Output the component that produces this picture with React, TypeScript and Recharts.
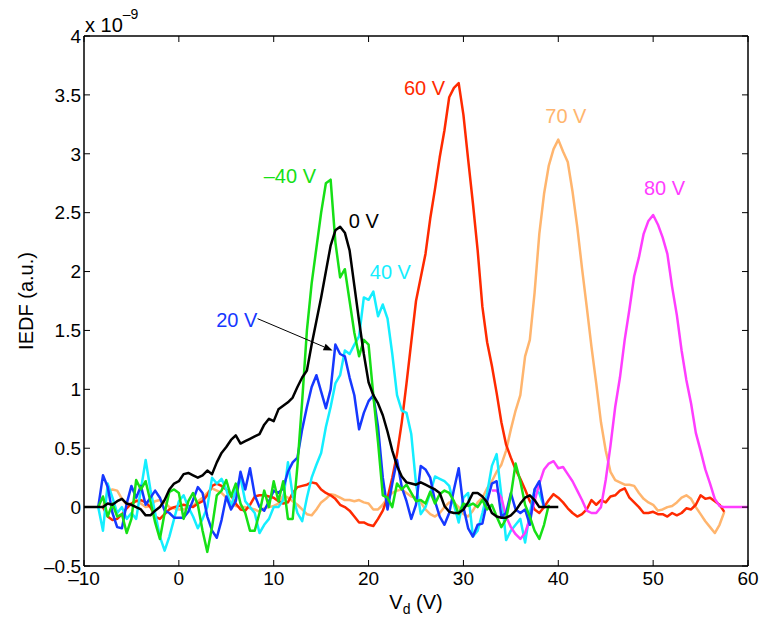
import React from 'react';
import { LineChart, Line, XAxis, YAxis, ReferenceDot, ReferenceLine } from 'recharts';

const xTicks = [-10, 0, 10, 20, 30, 40, 50, 60];
const yTicks = [-0.5, 0, 0.5, 1, 1.5, 2, 2.5, 3, 3.5, 4];

// IEDF values (units of 1e-9), sampled every 0.5 V starting at the given Vd
const black0VStart = -10;
const black0V = [
  0, 0, 0, 0, 0,
  0.03, 0.02, 0.05, 0.07, 0.03,
  0.02, 0.0, -0.02, -0.07, -0.07,
  -0.03, 0.0, 0.06, 0.15, 0.2,
  0.22, 0.28, 0.29, 0.27, 0.25,
  0.27, 0.31, 0.28, 0.38, 0.46,
  0.51, 0.57, 0.61, 0.54, 0.56,
  0.58, 0.6, 0.62, 0.7, 0.75,
  0.73, 0.83, 0.86, 0.89, 0.93,
  1.02, 1.1, 1.16, 1.38, 1.58,
  1.78, 2.0, 2.22, 2.35, 2.38,
  2.33, 2.18, 1.88, 1.58, 1.3,
  1.06, 0.95, 0.88, 0.78, 0.64,
  0.48, 0.35, 0.26, 0.21, 0.2,
  0.19, 0.21, 0.19, 0.17, 0.15,
  0.12, 0.01, -0.04, -0.05, -0.05,
  -0.02, 0.04, 0.12, 0.12, 0.09,
  0.04, -0.05, -0.08, -0.09, -0.09,
  -0.07, -0.03, 0.03, 0.08, 0.1,
  0.06, 0, 0, 0, 0,
  0,
];

const green40Start = -8.5;
const greenM40V = [
  0.0, 0.09, -0.08, 0.03, -0.08,
  -0.06, -0.22, -0.1, 0.23, 0.15,
  0.22, 0.05, -0.13, -0.27, -0.05,
  0.13, 0.15, 0.12, -0.1, 0.05,
  0.12, 0.02, -0.2, -0.38, -0.17,
  0.1, 0.14, 0.23, 0.09, 0.2,
  0.03, -0.05, -0.2, -0.2, -0.05,
  0.14, 0.0, 0.22, 0.05, 0.22,
  -0.1, -0.1, 0.35, 0.9, 1.5,
  1.9, 2.2, 2.5, 2.75, 2.78,
  2.25, 1.95, 2.02, 1.75, 1.48,
  1.28, 1.42, 1.38, 0.95, 0.55,
  0.1, 0.08, 0.0, 0.2, 0.15,
  0.19, 0.12, 0.05, 0.06, 0.03,
  0.13, 0.03, 0.11, 0.14, 0.12,
  0.05, -0.06, 0.03, 0.01, 0.03,
  0.0, 0.06, -0.02, 0.02, -0.08,
  -0.17, -0.1, 0.1, 0.37, 0.22,
  0.02, -0.08, -0.2, -0.27, -0.15,
  0.02,
];

const blue20Start = -8.5;
const blue20V = [
  0.0, 0.27, 0.17, -0.05, -0.17,
  -0.18, 0.03, 0.18, 0.08, 0.18,
  0.02, 0.08, 0.14, 0.08, -0.03,
  -0.05, -0.09, -0.09, -0.09, -0.04,
  0.06, 0.17, 0.12, -0.08, -0.2,
  -0.26, -0.11, 0.09, -0.02, 0.05,
  0.3, 0.15, 0.33, 0.1, 0.0,
  -0.03, 0.05, 0.14, 0.12, 0.16,
  0.3, 0.38, 0.42, 0.66, 0.85,
  1.02, 1.12, 0.98, 0.84, 1.0,
  1.38, 1.3, 1.28, 1.1, 0.95,
  0.66, 0.8, 0.9, 0.95, 0.68,
  0.25, -0.02, 0.2, 0.4, 0.17,
  0.05, -0.1, 0.02, 0.35, 0.32,
  0.25, 0.05, -0.08, -0.15, -0.05,
  0.15, 0.33, 0.0, -0.18, -0.25,
  -0.15, -0.14, 0.05, 0.2, 0.22,
  -0.08, -0.05, 0.12, -0.02, -0.05,
  -0.02, -0.15, 0.15, 0.22, 0.0,
];

const cyan40Start = -8.5;
const cyan40V = [
  0.0, -0.2, 0.2, 0.08, -0.05,
  0.0, -0.1, -0.05, -0.1, 0.15,
  0.4, 0.15, -0.05, -0.25, -0.37,
  -0.25, -0.1, 0.05, 0.1, 0.0,
  -0.08, -0.18, -0.1, 0.0, 0.25,
  0.2, 0.24, 0.15, 0.0, 0.15,
  0.25, 0.05, 0.0, -0.05, -0.22,
  -0.15, -0.1, 0.0, 0.0, 0.06,
  0.38, 0.1, -0.05, -0.12, 0.08,
  0.25, 0.36, 0.46, 0.68, 0.85,
  1.05, 1.12, 1.33, 1.3, 1.38,
  1.45, 1.78, 1.76, 1.83, 1.62,
  1.72, 1.6, 1.3, 0.95, 0.82,
  0.8, 0.62, 0.2, -0.06, 0.0,
  0.12, 0.26, 0.24, 0.22, 0.18,
  0.02, -0.13, 0.08, 0.12, -0.25,
  -0.2, -0.05, 0.12, 0.35, 0.45,
  0.1, -0.28, -0.2, -0.15, -0.1,
  -0.3, -0.05, 0.15, 0.12, 0.0,
];

const red60Start = -8;
const red60V = [
  0.0, -0.08, -0.11, -0.1, -0.06,
  -0.01, 0.03, 0.05, 0.06, 0.04,
  0.0, -0.08, -0.1, -0.06, -0.02,
  0.0, 0.01, 0.02, 0.01, 0.0,
  0.03, 0.05, 0.1, 0.18, 0.2,
  0.18, 0.15, 0.1, 0.03, -0.02,
  -0.03, 0.02, 0.09, 0.1, 0.1,
  0.09, 0.08, 0.05, 0.03, 0.04,
  0.12, 0.17, 0.18, 0.19, 0.21,
  0.2, 0.15, 0.12, 0.1, 0.07,
  0.02, 0.0, -0.03, -0.08, -0.13,
  -0.13, -0.15, -0.16, -0.1, -0.03,
  0.08, 0.25, 0.45, 0.72, 1.05,
  1.4, 1.75, 1.95, 2.15, 2.45,
  2.7, 2.97, 3.2, 3.48, 3.56,
  3.6, 3.33, 2.95, 2.58, 2.18,
  1.7, 1.4, 1.2, 0.97, 0.72,
  0.53, 0.42, 0.32, 0.24, 0.15,
  0.05, -0.02, -0.05, 0.0, 0.06,
  0.11, 0.08, 0.04, -0.01, -0.05,
  -0.08, -0.06, -0.02, 0.06, 0.02,
  0.06, 0.04, 0.09, 0.1, 0.14,
  0.16, 0.08, 0.04, 0.0, -0.05,
  -0.05, -0.04, -0.06, -0.06, -0.08,
  -0.05, -0.07, -0.05, -0.01, -0.02,
  0.02, 0.1, 0.07, 0.08, 0.05,
  0.02, -0.04,
];

const orange70Start = -8;
const orange70V = [
  0.0, 0.13, 0.15, 0.14, 0.07,
  0.02, 0.03, 0.06, 0.03, 0.0,
  0.01, 0.05, 0.06, 0.04, 0.0,
  -0.01, -0.02, -0.02, 0.0, 0.01,
  0.05, 0.08, 0.12, 0.16, 0.14,
  0.12, 0.08, 0.04, 0.01, 0.0,
  0.0, -0.01, -0.02, -0.04, -0.01,
  0.0, 0.01, 0.03, 0.1, 0.08,
  0.05, 0.02, -0.02, -0.06, -0.07,
  -0.02, 0.04, 0.07, 0.11, 0.1,
  0.08, 0.06, 0.06, 0.05, 0.06,
  0.04, 0.03, -0.02, -0.02, 0.02,
  0.08, 0.12, 0.14, 0.15, 0.12,
  0.09, 0.08, 0.04, -0.02, -0.06,
  -0.08, -0.05, 0.0, 0.04, 0.04,
  0.0, -0.06, -0.08, -0.03, 0.04,
  0.08, 0.16, 0.22, 0.3, 0.36,
  0.48, 0.66, 0.82, 0.95, 1.28,
  1.42, 1.82, 2.32, 2.66, 2.9,
  3.04, 3.12, 3.02, 2.93, 2.68,
  2.38, 2.03, 1.7, 1.36, 1.05,
  0.72, 0.48, 0.3, 0.23, 0.21,
  0.19, 0.19, 0.18, 0.12, 0.07,
  0.04, 0.02, -0.03, -0.02, 0.0,
  0.01, 0.04, 0.08, 0.1, 0.07,
  0.0, -0.06, -0.12, -0.17, -0.22,
  -0.15, -0.04,
];

const magenta80Start = 33;
const magenta80V = [
  0.14, 0.14, 0.08, -0.08, -0.17,
  -0.23, -0.27, -0.22, -0.1, 0.05,
  0.2, 0.32, 0.37, 0.39, 0.33,
  0.34, 0.28, 0.22, 0.14, 0.06,
  -0.03, -0.05, -0.05, 0.0, 0.23,
  0.52, 0.85, 1.1, 1.42, 1.68,
  1.96, 2.12, 2.32, 2.43, 2.48,
  2.4, 2.29, 2.15, 1.87, 1.63,
  1.33, 1.08, 0.88, 0.63, 0.48,
  0.32, 0.2, 0.07, 0.01, 0.0,
  0, 0, 0, 0, 0,
];

const STEP = 0.5;

const series = [
  { key: 'v70', name: '70 V', start: orange70Start, values: orange70V, color: '#ffb56e' },
  { key: 'v60', name: '60 V', start: red60Start, values: red60V, color: '#ff2a00' },
  { key: 'v40', name: '40 V', start: cyan40Start, values: cyan40V, color: '#14eeff' },
  { key: 'v80', name: '80 V', start: magenta80Start, values: magenta80V, color: '#ff3dff' },
  { key: 'v20', name: '20 V', start: blue20Start, values: blue20V, color: '#1638ff' },
  { key: 'vm40', name: '–40 V', start: green40Start, values: greenM40V, color: '#16e016' },
  { key: 'v0', name: '0 V', start: black0VStart, values: black0V, color: '#000000' },
];

// annotation text placement (data coordinates)
const annotations = [
  { text: '–40 V', x: 11.7, y: 2.81, color: '#16e016' },
  { text: '0 V', x: 19.5, y: 2.43, color: '#000000' },
  { text: '40 V', x: 22.3, y: 2.0, color: '#14eeff' },
  { text: '20 V', x: 6.1, y: 1.59, color: '#1638ff' },
  { text: '60 V', x: 25.9, y: 3.56, color: '#ff2a00' },
  { text: '70 V', x: 40.8, y: 3.32, color: '#ffb56e' },
  { text: '80 V', x: 51.2, y: 2.71, color: '#ff3dff' },
];
const arrowFrom = { x: 8.3, y: 1.6 };
const arrowTo = { x: 16.2, y: 1.33 };

const rows: any[] = [];
for (let i = 0; i <= 140; i++) {
  const x = -10 + i * STEP;
  const row: any = { x };
  series.forEach((s) => {
    const idx = Math.round((x - s.start) / STEP);
    if (idx >= 0 && idx < s.values.length) row[s.key] = s.values[idx];
  });
  rows.push(row);
}

const FONT = '"Liberation Sans", Arial, Helvetica, sans-serif';
const fmt = (v: number) => (v < 0 ? '–' + String(Math.abs(v)) : String(v));

const Arrow = (p: any) => {
  const { x1, y1, x2, y2 } = p;
  const ang = Math.atan2(y2 - y1, x2 - x1);
  const len = 9;
  const w = 3.5;
  const bx = x2 - len * Math.cos(ang);
  const by = y2 - len * Math.sin(ang);
  const px = -Math.sin(ang) * w;
  const py = Math.cos(ang) * w;
  return (
    <g>
      <line x1={x1} y1={y1} x2={bx} y2={by} stroke="#000" strokeWidth={1} />
      <polygon points={`${x2},${y2} ${bx + px},${by + py} ${bx - px},${by - py}`} fill="#000" />
    </g>
  );
};

export default function App() {
  return (
    <div style={{ position: 'absolute', left: 0, top: 0, width: 763, height: 619, background: '#fff', fontFamily: FONT }}>
      <LineChart width={763} height={619} data={rows} margin={{ top: 31, right: 10, bottom: 23, left: 24 }}>
        <XAxis
          dataKey="x"
          type="number"
          domain={[-10, 60]}
          ticks={xTicks}
          interval={0}
          allowDataOverflow
          height={30}
          tickSize={-6}
          tickMargin={12}
          tickFormatter={fmt}
          axisLine={{ stroke: '#000', strokeWidth: 1.5 }}
          tickLine={{ stroke: '#000', strokeWidth: 1 }}
          tick={{ fill: '#000', fontSize: 19, fontFamily: FONT }}
          label={{
            content: (props: any) => {
              const vb = props.viewBox || { x: 84, y: 566, width: 664, height: 30 };
              return (
                <text x={vb.x + vb.width / 2} y={vb.y + 43} textAnchor="middle" fontSize={20} fontFamily={FONT} fill="#000">
                  V<tspan fontSize={14} dy={5}>d</tspan>
                  <tspan dy={-5}> (V)</tspan>
                </text>
              );
            },
          }}
        />
        <XAxis
          xAxisId="top"
          orientation="top"
          dataKey="x"
          type="number"
          domain={[-10, 60]}
          ticks={xTicks}
          interval={0}
          allowDataOverflow
          height={5}
          tickSize={-6}
          tickFormatter={() => ''}
          axisLine={{ stroke: '#000', strokeWidth: 1.5 }}
          tickLine={{ stroke: '#000', strokeWidth: 1 }}
        />
        <YAxis
          type="number"
          domain={[-0.5, 4]}
          ticks={yTicks}
          interval={0}
          allowDataOverflow
          width={60}
          tickSize={-6}
          tickMargin={9}
          tickFormatter={fmt}
          axisLine={{ stroke: '#000', strokeWidth: 1.5 }}
          tickLine={{ stroke: '#000', strokeWidth: 1 }}
          tick={{ fill: '#000', fontSize: 19, fontFamily: FONT }}
          label={{
            content: (props: any) => {
              const vb = props.viewBox || { x: 24, y: 36, width: 60, height: 530 };
              const cx = 33;
              const cy = vb.y + vb.height / 2;
              return (
                <g>
                  <text x={cx} y={cy} textAnchor="middle" fontSize={20} fontFamily={FONT} fill="#000" transform={`rotate(-90, ${cx}, ${cy})`}>
                    IEDF (a.u.)
                  </text>
                  <text x={vb.x + vb.width + 1} y={vb.y - 4} fontSize={20} fontFamily={FONT} fill="#000">
                    x 10<tspan fontSize={14} dy={-13}>–9</tspan>
                  </text>
                </g>
              );
            },
          }}
        />
        <YAxis
          yAxisId="right"
          orientation="right"
          type="number"
          domain={[-0.5, 4]}
          ticks={yTicks}
          interval={0}
          allowDataOverflow
          width={5}
          tickSize={-6}
          tickFormatter={() => ''}
          axisLine={{ stroke: '#000', strokeWidth: 1.5 }}
          tickLine={{ stroke: '#000', strokeWidth: 1 }}
        />
        {series.map((s) => (
          <Line
            key={s.key}
            dataKey={s.key}
            name={s.name}
            type="linear"
            stroke={s.color}
            strokeWidth={2.5}
            strokeLinejoin="round"
            dot={false}
            activeDot={false}
            isAnimationActive={false}
            connectNulls={false}
          />
        ))}
        <ReferenceLine segment={[arrowFrom, arrowTo]} shape={(p: any) => <Arrow {...p} />} ifOverflow="visible" />
        {annotations.map((a) => (
          <ReferenceDot
            key={a.text}
            x={a.x}
            y={a.y}
            r={1}
            ifOverflow="visible"
            shape={(p: any) => (
              <text x={p.cx} y={p.cy} textAnchor="middle" dominantBaseline="central" fontSize={20} fontFamily={FONT} fill={a.color}>
                {a.text}
              </text>
            )}
          />
        ))}
      </LineChart>
    </div>
  );
}
